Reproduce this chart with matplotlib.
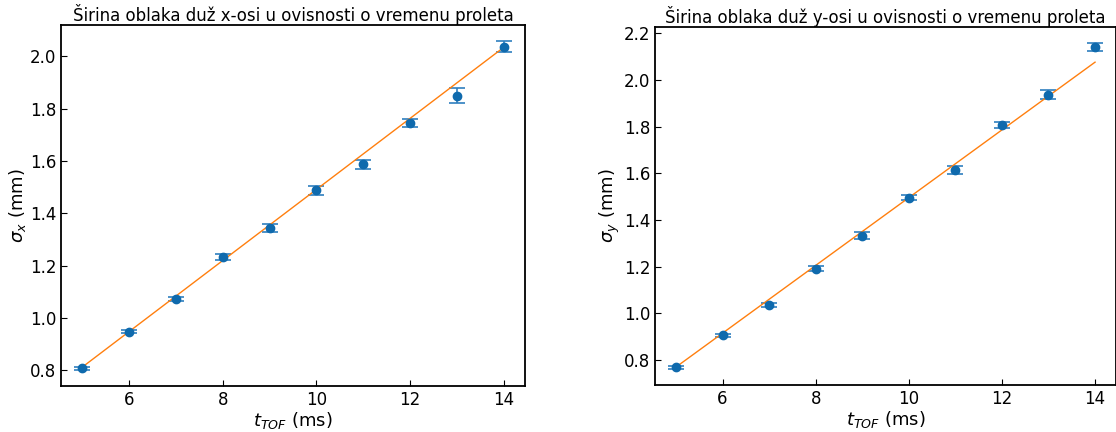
import numpy as np
import matplotlib.pyplot as plt

t = [5, 6, 7, 8, 9, 10, 11, 12, 13, 14]

sigma_x = [0.808, 0.948, 1.073, 1.232, 1.345, 1.488, 1.587, 1.745, 1.850, 2.037]
err_x = [0.005, 0.005, 0.007, 0.012, 0.015, 0.016, 0.016, 0.015, 0.028, 0.020]
fit_t_x = [5, 14]
fit_x = [0.812, 2.035]

sigma_y = [0.768, 0.906, 1.037, 1.192, 1.333, 1.496, 1.614, 1.809, 1.938, 2.142]
err_y = [0.005, 0.006, 0.008, 0.010, 0.015, 0.012, 0.017, 0.013, 0.020, 0.016]
fit_t_y = [5, 14]
fit_y = [0.770, 2.077]

fig = plt.figure(figsize=(11.16, 4.32), dpi=100)
ax1 = fig.add_axes([0.0547, 0.1065, 0.4157, 0.8355])
ax2 = fig.add_axes([0.587, 0.109, 0.413, 0.8285])

panels = [
    (ax1, sigma_x, err_x, fit_t_x, fit_x, r'$\sigma_x$ (mm)',
     'Širina oblaka duž x-osi u ovisnosti o vremenu proleta'),
    (ax2, sigma_y, err_y, fit_t_y, fit_y, r'$\sigma_y$ (mm)',
     'Širina oblaka duž y-osi u ovisnosti o vremenu proleta'),
]

for ax, s, e, ft, fv, ylab, title in panels:
    ax.errorbar(t, s, yerr=e, fmt='o', color='#0f6aad', ecolor='#2f7fbf',
                markersize=6, capsize=5.5, elinewidth=1.2, capthick=1.2)
    ax.plot(ft, fv, color='#ff7f0e', lw=1)
    ax.set_xlabel(r'$t_{TOF}$ (ms)', fontsize=13, labelpad=1)
    ax.set_ylabel(ylab, fontsize=13, labelpad=1)
    ax.set_title(title, fontsize=12, pad=3)
    ax.tick_params(direction='in', labelsize=12, length=4)
    ax.set_xticks([6, 8, 10, 12, 14])
    for sp in ax.spines.values():
        sp.set_linewidth(1.3)

fig.savefig('out.png', dpi=100)
